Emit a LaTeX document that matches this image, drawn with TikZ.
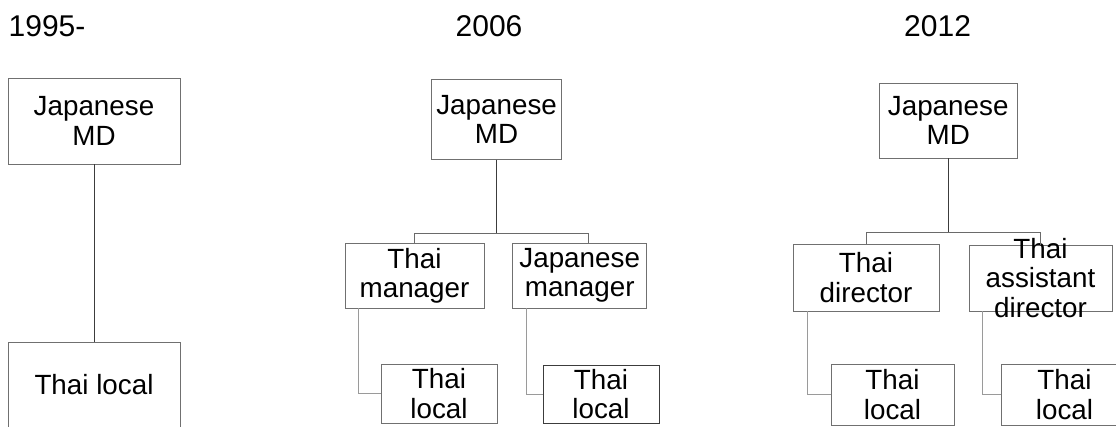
\documentclass[tikz,border=0pt]{standalone}
\usepackage{fontspec}
\setmainfont{Liberation Sans}
\usetikzlibrary{calc}
\definecolor{boxgray}{HTML}{707070}
\definecolor{linkdark}{HTML}{3C3C3C}
\definecolor{linkmid}{HTML}{6A6A6A}
\definecolor{linklight}{HTML}{9A9A9A}
\begin{document}
\begin{tikzpicture}[x=1pt,y=-1pt,
  box/.style={draw=boxgray, line width=0.9pt, inner sep=0pt, align=center,
              font=\fontsize{27.8}{29.2}\selectfont},
  lbl/.style={inner sep=0pt, align=center, font=\fontsize{27.8}{29.2}\selectfont},
  year/.style={anchor=base west, inner sep=0pt, font=\fontsize{30}{34}\selectfont},
  link/.style={draw=linkdark, line width=0.9pt},
  bus/.style={draw=linkmid, line width=0.9pt},
  sublink/.style={draw=linklight, line width=0.9pt}]
\useasboundingbox (0,0) rectangle (1116,426);

% period headings
\node[year] (y1) at (8.5,36.7) {1995-};
\node[year] (y2) at (455.5,36.7) {2006};
\node[year] (y3) at (904,36.7) {2012};

% ---- 1995- ----
\node[box, minimum width=172pt, minimum height=86pt] (md1) at (94,121) {Japanese\\MD};
\node[box, minimum width=172pt, minimum height=86pt] (tl1) at (94,385) {Thai local};
\draw[link] (md1.south) -- (tl1.north);

% ---- 2006 ----
\node[box, minimum width=130pt, minimum height=79.5pt] (md2) at (496.6,119.3) {Japanese\\MD};
\node[box, minimum width=139pt, minimum height=65pt] (tm2) at (414.5,275.5) {Thai\\manager};
\node[box, minimum width=134pt, minimum height=65pt] (jm2) at (579.7,275.5) {Japanese\\manager};
\node[box, minimum width=116pt, minimum height=59pt] (tl2a) at (439,393.5) {Thai\\local};
\node[box, draw=linkdark, minimum width=116pt, minimum height=58pt] (tl2b) at (601,394) {Thai\\local};

\coordinate (d2l) at (414.5,233);
\coordinate (d2r) at (588,233);
\draw[link] (md2.south) -- (md2.south |- d2l);
\draw[bus] (tm2.north) -- (d2l) -- (d2r) -- (d2r |- jm2.north);
\coordinate (s2a) at ($(tm2.south west)+(14,0)$);
\coordinate (s2b) at ($(jm2.south west)+(14.3,0)$);
\draw[sublink] (s2a) |- (tl2a.west);
\draw[sublink] (s2b) |- (tl2b.west);

% ---- 2012 ----
\node[box, minimum width=137.5pt, minimum height=75pt] (md3) at (948.2,120.5) {Japanese\\MD};
\node[box, minimum width=146pt, minimum height=67pt] (td3) at (866,277.5) {Thai\\director};
\node[box, minimum width=143pt, minimum height=66pt] (ad3) at (1040.5,278) {};
\node[lbl] (ad3t) at (ad3.center) {Thai\\assistant\\director};
\node[box, minimum width=123pt, minimum height=61pt] (tl3a) at (892.5,394.5) {Thai\\local};
\node[box, minimum width=127pt, minimum height=61pt] (tl3b) at (1064.5,394.5) {Thai\\local};

\coordinate (d3l) at (866,232);
\coordinate (d3r) at (1040.5,232);
\draw[link] (md3.south) -- (md3.south |- d3l);
\draw[bus] (td3.north) -- (d3l) -- (d3r) -- (ad3.north);
\coordinate (s3a) at ($(td3.south west)+(14.7,0)$);
\coordinate (s3b) at ($(ad3.south west)+(14,0)$);
\draw[sublink] (s3a) |- (tl3a.west);
\draw[sublink] (s3b) |- (tl3b.west);
\end{tikzpicture}
\end{document}
